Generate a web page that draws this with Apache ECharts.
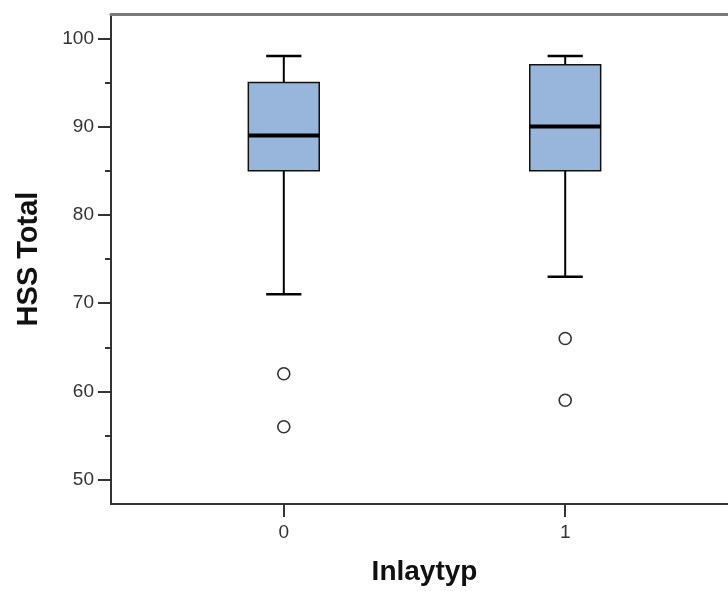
<!DOCTYPE html>
<html>
<head>
<meta charset="utf-8">
<title>HSS Total nach Inlaytyp</title>
<script src="https://cdn.jsdelivr.net/npm/echarts@6/dist/echarts.min.js"></script>
<style>
	html, body { margin: 0; padding: 0; background: #fff; }
	#chart { width: 728px; height: 591px; }
</style>
</head>
<body>
<div id="chart"></div>
<script>
// Werte
var categories = [0, 1]; // Inlaytyp
var whiskerLow = [71, 73];
var quartile1 = [85, 85];
var medians = [89, 90];
var quartile3 = [95, 97];
var whiskerHigh = [98, 98];
var outliers = [[0, 62], [0, 56], [1, 66], [1, 59]];

var yTicks = [50, 60, 70, 80, 90, 100];
var yMinorTicks = [55, 65, 75, 85, 95];
var xTickLabels = ['0', '1'];

var boxWidth = 0.252; // in Achseneinheiten
var capWidth = 0.125;

var boxData = [];
for (let i = 0; i < categories.length; i++) {
	boxData.push([categories[i], whiskerLow[i], quartile1[i], medians[i], quartile3[i], whiskerHigh[i]]);
}

function renderBox(params, api) {
	var x = api.value(0);
	var lo = api.coord([x, api.value(1)]);
	var q1 = api.coord([x, api.value(2)]);
	var md = api.coord([x, api.value(3)]);
	var q3 = api.coord([x, api.value(4)]);
	var hi = api.coord([x, api.value(5)]);
	var bw = api.size([boxWidth, 0])[0];
	var cw = api.size([capWidth, 0])[0];
	var cx = lo[0];
	var black = { stroke: '#000', lineWidth: 2 };
	return {
		type: 'group',
		children: [
			{ type: 'line', shape: { x1: cx, y1: hi[1], x2: cx, y2: q3[1] }, style: black },
			{ type: 'line', shape: { x1: cx, y1: q1[1], x2: cx, y2: lo[1] }, style: black },
			{ type: 'line', shape: { x1: cx - cw / 2, y1: hi[1], x2: cx + cw / 2, y2: hi[1] }, style: { stroke: '#000', lineWidth: 2.5 } },
			{ type: 'line', shape: { x1: cx - cw / 2, y1: lo[1], x2: cx + cw / 2, y2: lo[1] }, style: { stroke: '#000', lineWidth: 2.5 } },
			{ type: 'rect', shape: { x: cx - bw / 2, y: q3[1], width: bw, height: q1[1] - q3[1] }, style: { fill: '#98b6db', stroke: '#111', lineWidth: 1.5 } },
			{ type: 'line', shape: { x1: cx - bw / 2, y1: md[1], x2: cx + bw / 2, y2: md[1] }, style: { stroke: '#000', lineWidth: 4 } }
		]
	};
}

var myChart = echarts.init(document.getElementById('chart'));
var option = {
	backgroundColor: '#fff',
	animation: false,
	grid: { left: 111, right: -10, top: 14, bottom: 87, outerBoundsMode: 'none' },
	xAxis: [{
		type: 'value',
		min: -0.614,
		max: 1.614,
		name: 'Inlaytyp',
		nameLocation: 'middle',
		nameGap: 54,
		nameTextStyle: { fontFamily: 'Liberation Sans, Arial', fontSize: 28, fontWeight: 'bold', color: '#111' },
		axisLine: { onZero: false, lineStyle: { color: '#333', width: 2 } },
		axisTick: { customValues: categories, length: 13, lineStyle: { color: '#333', width: 2 } },
		axisLabel: {
			customValues: categories,
			margin: 19,
			fontFamily: 'Liberation Sans, Arial',
			fontSize: 19,
			color: '#333',
			formatter: function (v) { return xTickLabels[categories.indexOf(v)]; }
		},
		splitLine: { show: false }
	}, {
		// obere Rahmenlinie
		type: 'value',
		position: 'top',
		min: -0.614,
		max: 1.614,
		axisLine: { show: true, onZero: false, lineStyle: { color: '#7a7a7a', width: 3 } },
		axisTick: { show: false },
		axisLabel: { show: false },
		splitLine: { show: false }
	}],
	yAxis: [{
		type: 'value',
		min: 47.25,
		max: 102.75,
		name: 'HSS Total',
		nameLocation: 'middle',
		nameGap: 68,
		nameTextStyle: { fontFamily: 'Liberation Sans, Arial', fontSize: 29, fontWeight: 'bold', color: '#111' },
		axisLine: { onZero: false, lineStyle: { color: '#333', width: 2 } },
		axisTick: { customValues: yTicks, length: 13, lineStyle: { color: '#333', width: 2 } },
		axisLabel: { customValues: yTicks, margin: 17, fontFamily: 'Liberation Sans, Arial', fontSize: 19, color: '#333' },
		splitLine: { show: false }
	}, {
		// kleine Striche bei 55, 65, ...
		type: 'value',
		position: 'left',
		min: 47.25,
		max: 102.75,
		axisLine: { show: false, onZero: false },
		axisTick: { customValues: yMinorTicks, length: 6, lineStyle: { color: '#333', width: 2 } },
		axisLabel: { show: false },
		splitLine: { show: false }
	}],
	series: [{
		type: 'custom',
		renderItem: renderBox,
		encode: { x: 0, y: [1, 2, 3, 4, 5] },
		data: boxData,
		z: 3
	}, {
		type: 'scatter',
		data: outliers,
		symbol: 'circle',
		symbolSize: 12,
		itemStyle: { color: '#fff', borderColor: '#333', borderWidth: 1.6, opacity: 1 },
		z: 4
	}]
};
myChart.setOption(option);
</script>
</body>
</html>
